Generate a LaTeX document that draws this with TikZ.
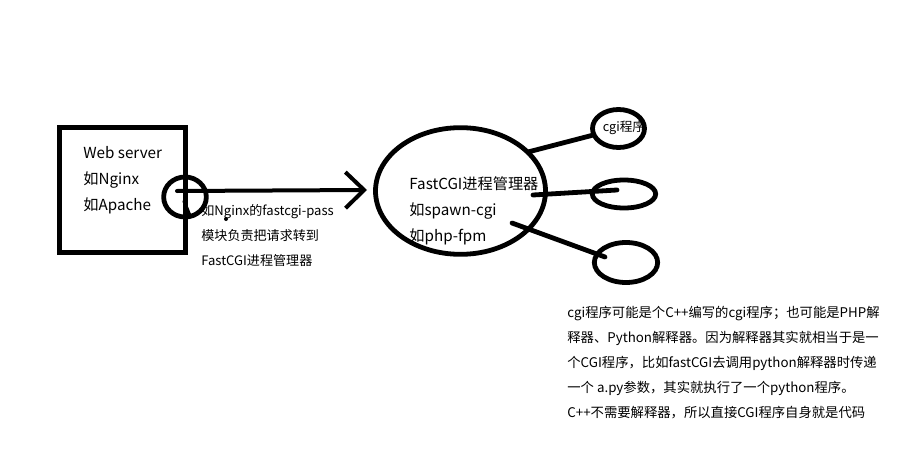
\documentclass[tikz,border=0pt]{standalone}
\usepackage{fontspec}
\setmainfont{Noto Sans CJK SC}
\usetikzlibrary{shapes.geometric,arrows.meta}
\begin{document}
\begin{tikzpicture}[x=0.75pt, y=-0.75pt, line width=3.6pt, line cap=round,
		every node/.style={inner sep=0pt},
		bigtext/.style={font=\fontsize{11.4}{19.5}\selectfont, align=left, anchor=north west},
		smalltext/.style={font=\fontsize{9.8}{18.75}\selectfont, align=left, anchor=north west},
		proc/.style={draw, ellipse, line width=3.6pt}]
		\useasboundingbox (0,0) rectangle (918,464);
		
		% Web server box
		\node[draw, rectangle, line width=3.8pt, minimum width=94.5pt, minimum height=93.75pt] (server) at (122.5,190) {};
		\node[bigtext] (serverlabel) at (81,144) {Web server\\如Nginx\\如Apache};
		
		% fastcgi-pass circle
		\node[proc, minimum width=32pt, minimum height=30pt] (pass) at (185,197) {};
		
		% FastCGI process manager
		\node[proc, minimum width=127.5pt, minimum height=95pt] (manager) at (460.5,191) {};
		\node[bigtext] (managerlabel) at (407,174) {FastCGI进程管理器\\如spawn-cgi\\如php-fpm};
		
		% cgi programs
		\node[proc, minimum width=39pt, minimum height=28.5pt] (cgiA) at (618.5,128.5) {};
		\node[font=\fontsize{9.5}{11}\selectfont] (cgiAlabel) at (624,128) {cgi程序};
		\node[proc, minimum width=47.5pt, minimum height=21pt] (cgiB) at (624,194) {};
		\node[proc, minimum width=47.5pt, minimum height=30pt] (cgiC) at (626,262.5) {};
		
		% Connector ends
		\coordinate (a0) at (177,191);
		\coordinate (a1) at (367,190);
		\coordinate (m1) at (528,152);
		\coordinate (m2) at (533,195);
		\coordinate (m3) at (512,223);
		\coordinate (b2) at (617,190);
		\coordinate (b3) at (605,257);
		\coordinate (s0) at (184,201);
		\coordinate (s1) at (190,216);
		\coordinate (s2) at (226,219);
		
		% Draw arrow to manager
		\draw[line width=3pt, -{Straight Barb[length=14pt, width=27pt, line width=3pt]}] (a0) -- (a1);
		
		% Draw links to cgi programs
		\foreach \a/\b in {m1/cgiA, m2/b2, m3/b3}
		\draw (\a) -- (\b);
		
		% Stray strokes under the circle
		\draw[line width=2.5pt] (s0) -- (s1);
		\fill (s1) circle (2.5);
		\fill (s2) circle (2);
		
		% Notes
		\node[smalltext] (passnote) at (199,202) {如Nginx的fastcgi-pass\\模块负责把请求转到\\FastCGI进程管理器};
		\node[smalltext, font=\fontsize{10}{18.75}\selectfont] (cginote) at (565,304) {cgi程序可能是个C++编写的cgi程序；也可能是PHP解\\释器、Python解释器。因为解释器其实就相当于是一\\个CGI程序，比如fastCGI去调用python解释器时传递\\一个 a.py参数，其实就执行了一个python程序。\\C++不需要解释器，所以直接CGI程序自身就是代码};
	\end{tikzpicture}
\end{document}
